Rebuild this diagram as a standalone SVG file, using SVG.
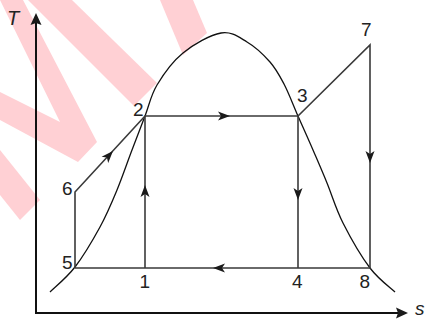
<svg xmlns="http://www.w3.org/2000/svg" width="429" height="320" viewBox="0 0 429 320">
<defs>
<path id="ah" d="M0,0 L-12,-4.5 L-9,0 L-12,4.5 Z"/>
<path id="axh" d="M0,0 L-12,-5.5 L-10,0 L-12,5.5 Z"/>
</defs>
<style>
.wm{fill:#ffd0d4}
.ax{stroke:#111;stroke-width:2;fill:none}
.cy{stroke:#3a3a3a;stroke-width:1.6;fill:none}
.dome{stroke:#111;stroke-width:1.3;fill:none}
.arr{fill:#1a1a1a}
.lbl{font-family:"Liberation Sans",Arial,sans-serif;font-size:19px;fill:#222}
.it{font-style:italic;font-size:20px}
</style>
<rect width="429" height="320" fill="#fff"/>
<g id="watermark">
<polygon class="wm" points="28,0 72,0 157,83 134,106"/>
<polygon class="wm" points="0,0 23,0 97,142 78,162 0,120 0,92 60,122"/>
<polygon class="wm" points="0,150 40,200 20,220 0,195"/>
<polygon class="wm" points="160,0 193,0 207,33 183,55"/>
</g>
<g id="axes">
<line class="ax" x1="36" y1="313" x2="36" y2="20"/>
<line class="ax" x1="35" y1="313" x2="400" y2="313"/>
<use href="#axh" class="arr" transform="translate(36,13) rotate(-90)"/>
<use href="#axh" class="arr" transform="translate(408,313)"/>
<text class="lbl it" x="7" y="25">T</text>
<text class="lbl it" x="415" y="315" style="font-size:19px">s</text>
</g>
<g id="dome">
<path class="dome" d="M50,292 C54.2,287.8 66.7,277.8 75,267 C83.3,256.2 93,239.8 100,227 C107,214.2 111.7,202.8 117,190 C122.3,177.2 127.3,162.3 132,150 C136.7,137.7 140.8,126.8 145,116 C149.2,105.2 150.7,95.5 157,85 C163.3,74.5 172.3,61.7 183,53 C193.7,44.3 210.3,34.8 221,33 C231.7,31.2 238.8,37.2 247,42 C255.2,46.8 263.8,55 270,62 C276.2,69 279.3,75 284,84 C288.7,93 293.2,105 298,116 C302.8,127 308.2,138.8 313,150 C317.8,161.2 322,170.8 327,183 C332,195.2 335.8,208.8 343,223 C350.2,237.2 361.3,256.5 370,268 C378.7,279.5 390.8,288 395,292"/>
</g>
<g id="connectors">
<polyline class="cy" points="75,268 75,192 145,116 298,116 370,45 370,268 75,268"/>
<line class="cy" x1="145" y1="116" x2="145" y2="268"/>
<line class="cy" x1="298" y1="116" x2="298" y2="268"/>
<use href="#ah" class="arr" transform="translate(113,151) rotate(-47.4)"/>
<use href="#ah" class="arr" transform="translate(230,116)"/>
<use href="#ah" class="arr" transform="translate(370,163) rotate(90)"/>
<use href="#ah" class="arr" transform="translate(213,268) rotate(180)"/>
<use href="#ah" class="arr" transform="translate(145,185) rotate(-90)"/>
<use href="#ah" class="arr" transform="translate(298,200) rotate(90)"/>
</g>
<g id="node-1"><text class="lbl" x="139.5" y="288">1</text></g>
<g id="node-2"><text class="lbl" x="133" y="116">2</text></g>
<g id="node-3"><text class="lbl" x="297" y="102">3</text></g>
<g id="node-4"><text class="lbl" x="292" y="288">4</text></g>
<g id="node-5"><text class="lbl" x="62" y="269">5</text></g>
<g id="node-6"><text class="lbl" x="62" y="195">6</text></g>
<g id="node-7"><text class="lbl" x="361" y="36">7</text></g>
<g id="node-8"><text class="lbl" x="359.5" y="288">8</text></g>
</svg>
